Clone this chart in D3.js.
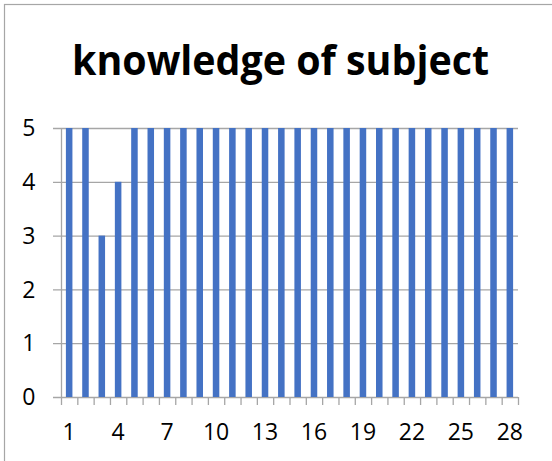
<!DOCTYPE html>
<html><head><meta charset="utf-8">
<script src="https://cdn.jsdelivr.net/npm/d3@7"></script>
<style>body{margin:0;background:#fff}svg{display:block}</style>
</head><body>
<script>
const categories = d3.range(1, 29).map(String);
const values = [5,5,3,4,5,5,5,5,5,5,5,5,5,5,5,5,5,5,5,5,5,5,5,5,5,5,5,5];
const yTicks = [0,1,2,3,4,5];
const xTickLabels = ["1","4","7","10","13","16","19","22","25","28"];
const title = "knowledge of subject";

const W = 552, H = 461;
const svg = d3.select("body").append("svg").attr("width", W).attr("height", H);
svg.append("rect").attr("x", 4.5).attr("y", 4.5).attr("width", W).attr("height", H)
  .attr("fill", "#fff").attr("stroke", "#a6a6a6").attr("stroke-width", 1.2);

const L = 61, R = 518, T = 128, B = 397;
const x = d3.scaleBand().domain(categories).range([L, R]).paddingInner(0.6).paddingOuter(0.3);
const xb = d3.scaleBand().domain(categories).range([L, R]);
const y = d3.scaleLinear().domain([0, 5]).range([B, T]);

const font = "'Open Sans', 'Liberation Sans', sans-serif";
// gridlines
svg.append("g").selectAll("line").data(yTicks).join("line")
  .attr("x1", L - 8).attr("x2", R).attr("y1", d => y(d) + 0.5).attr("y2", d => y(d) + 0.5)
  .attr("stroke", "#a6a6a6").attr("stroke-width", 1.3);
// y axis line
svg.append("line").attr("x1", L + 0.5).attr("x2", L + 0.5).attr("y1", T).attr("y2", B)
  .attr("stroke", "#a6a6a6").attr("stroke-width", 1.3);
// x ticks at band boundaries
const bounds = categories.map(c => xb(c)).concat([R]);
svg.append("g").selectAll("line").data(bounds).join("line")
  .attr("x1", d => d + 0.5).attr("x2", d => d + 0.5).attr("y1", B).attr("y2", B + 8)
  .attr("stroke", "#a6a6a6").attr("stroke-width", 1.3);

// bars
svg.append("g").selectAll("rect").data(values).join("rect")
  .attr("x", (d, i) => x(categories[i])).attr("width", x.bandwidth())
  .attr("y", d => y(d)).attr("height", d => B - y(d))
  .attr("fill", "#4472c4");

// y labels
svg.append("g").selectAll("text").data(yTicks).join("text")
  .attr("x", 35.5).attr("y", d => y(d)).attr("dy", "0.36em").attr("text-anchor", "end")
  .attr("font-family", font).attr("font-size", 23).attr("fill", "#000").text(d => d);
// x labels
svg.append("g").selectAll("text").data(xTickLabels).join("text")
  .attr("x", d => xb(d) + xb.bandwidth() / 2).attr("y", 440).attr("text-anchor", "middle")
  .attr("font-family", font).attr("font-size", 23).attr("fill", "#000").text(d => d);

// title
svg.append("text").attr("x", 280.5).attr("y", 75).attr("text-anchor", "middle")
  .attr("font-family", font).attr("font-weight", "bold").attr("font-size", 42)
  .attr("textLength", 417).attr("lengthAdjust", "spacingAndGlyphs")
  .attr("fill", "#000").text(title);
</script>
</body></html>
